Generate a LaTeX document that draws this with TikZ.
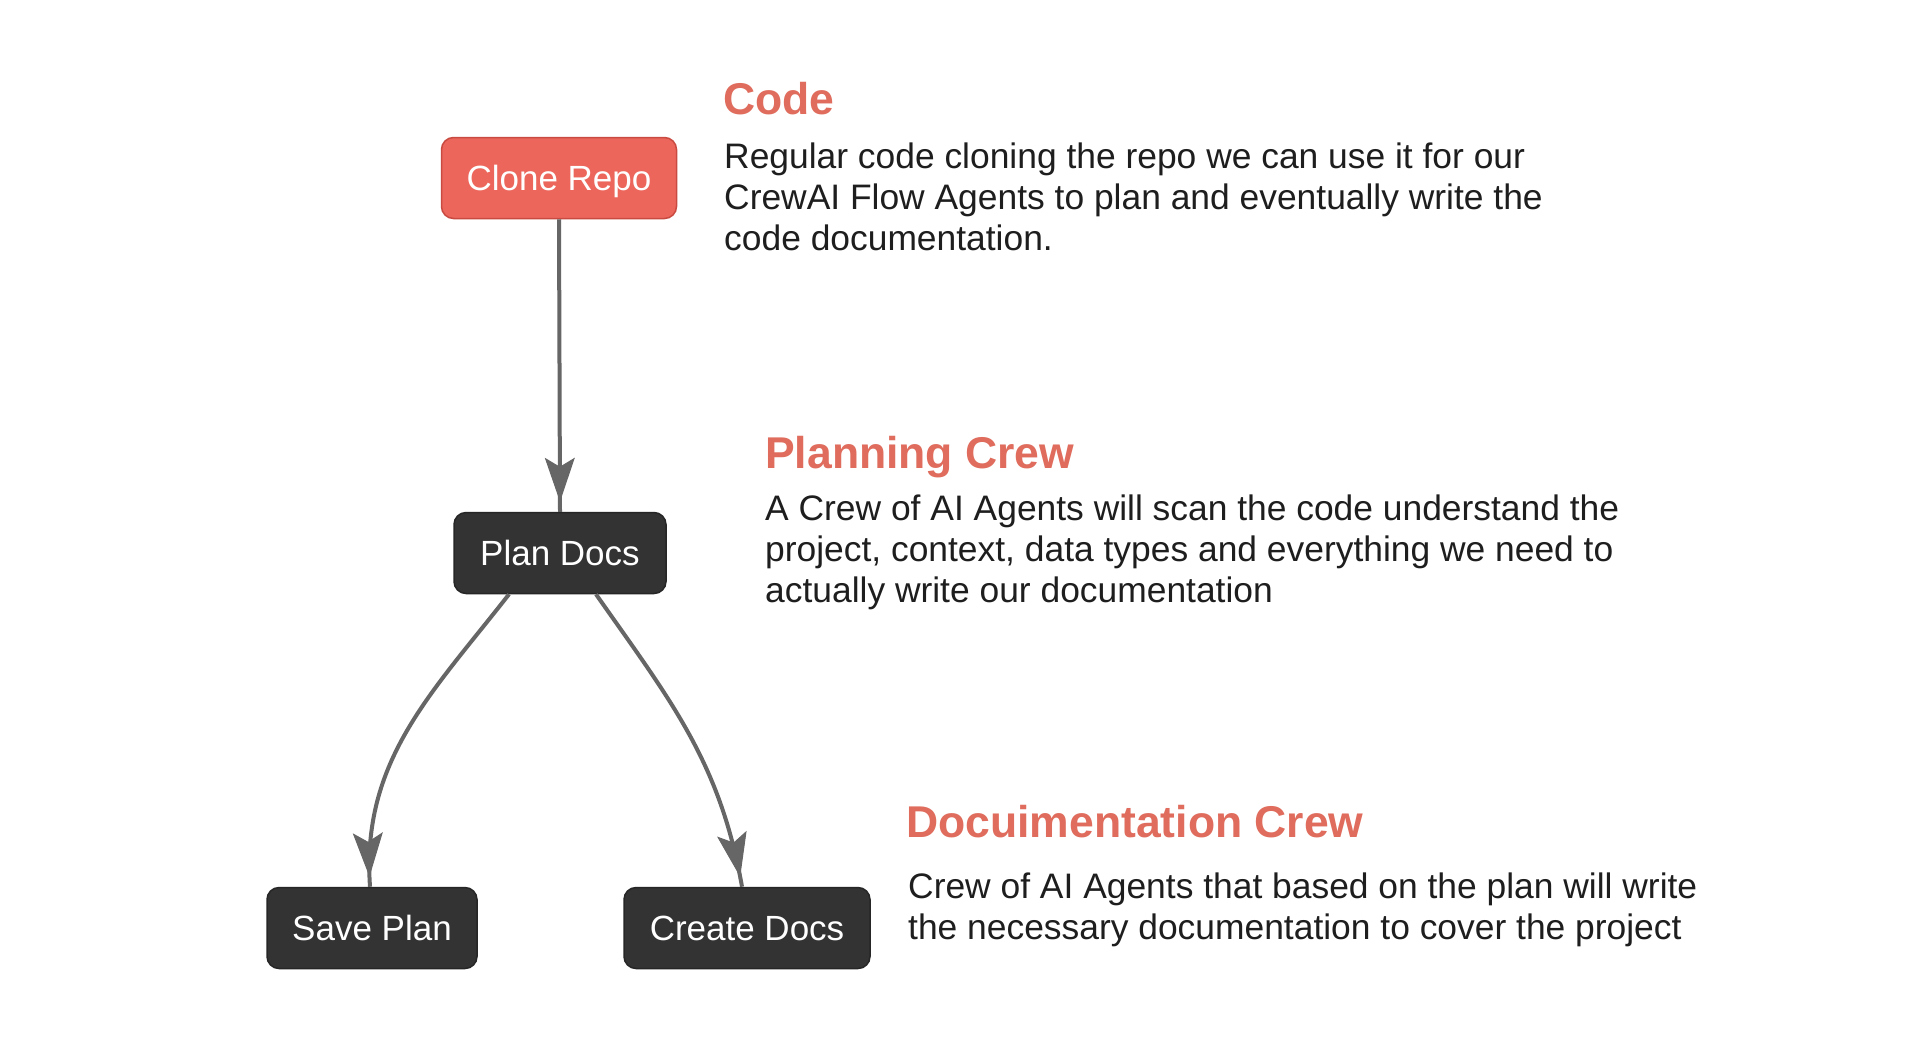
\documentclass[tikz,border=0pt]{standalone}
\usepackage{fontspec}
\setmainfont{Liberation Sans}
\usetikzlibrary{arrows.meta,decorations.markings}
\definecolor{headred}{HTML}{DF6C5C}
\definecolor{clonefill}{HTML}{EC665C}
\definecolor{cloneedge}{HTML}{C94A40}
\definecolor{darkfill}{HTML}{333333}
\definecolor{darkedge}{HTML}{262626}
\definecolor{edgegray}{HTML}{666666}
\definecolor{bodytext}{HTML}{1E1E1E}
\begin{document}
\begin{tikzpicture}[x=1pt,y=-1pt,
 box/.style={rounded corners=12pt, minimum height=81pt, inner sep=0pt, text height=25pt, text depth=0pt, font=\fontsize{35}{40}\selectfont, text=white, line width=1.5pt},
 darkbox/.style={box, fill=darkfill, draw=darkedge},
 redbox/.style={box, fill=clonefill, draw=cloneedge},
 head/.style={anchor=base west, inner sep=0pt, text=headred, font=\fontsize{44.5}{50}\selectfont\bfseries},
 body/.style={anchor=base west, inner sep=0pt, text=bodytext, align=left, font=\fontsize{35.4}{41.4}\selectfont},
 flow/.style={draw=edgegray, line width=4pt, postaction={decorate},
   decoration={markings, mark=at position -10pt with {\arrow[edgegray, line width=1pt]{Stealth[length=44pt,width=30pt,inset=9pt]}}}}
]
\useasboundingbox (0,0) rectangle (1908,1058);
\fill[white] (0,0) rectangle (1908,1058);

\node[redbox, minimum width=235pt] (clone) at (559,178) {Clone Repo};
\node[darkbox, minimum width=212pt] (plan) at (560,553) {Plan Docs};
\node[darkbox, minimum width=210pt] (save) at (372,928) {Save Plan};
\node[darkbox, minimum width=246pt] (create) at (747,928) {Create Docs};

\draw[flow] (clone.south) -- (plan.north);
\draw[flow] ([xshift=-51pt]plan.south) to[out=-128, in=94] ([xshift=-2pt]save.north);
\draw[flow] ([xshift=36pt]plan.south) to[out=-55, in=100] ([xshift=-5pt]create.north);

\node[head] (codeh) at (723,114) {Code};
\node[body] (codet) at (724,250.8) {Regular code cloning the repo we can use it for our\\CrewAI Flow Agents to plan and eventually write the\\code documentation.};

\node[head] (planh) at (765,468) {Planning Crew};
\node[body] (plant) at (765,602.8) {A Crew of AI Agents will scan the code understand the\\project, context, data types and everything we need to\\actually write our documentation};

\node[head] (doch) at (906,837) {Docuimentation Crew};
\node[body] (doct) at (908,939.4) {Crew of AI Agents that based on the plan will write\\the necessary documentation to cover the project};
\end{tikzpicture}
\end{document}
